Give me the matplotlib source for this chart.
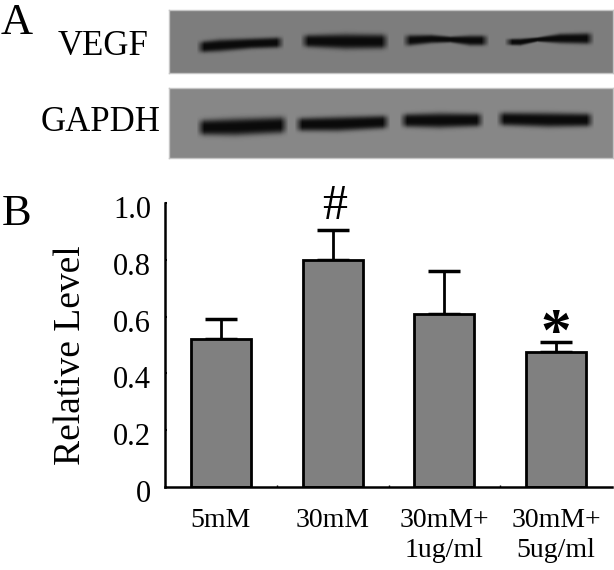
import numpy as np
import matplotlib
matplotlib.use('Agg')
import matplotlib.pyplot as plt
from matplotlib.transforms import ScaledTranslation

plt.rcParams['font.family'] = ['Liberation Serif', 'DejaVu Serif']

W, H = 614, 570

# bar chart values
groups = ['5mM', '30mM', '30mM+\n1ug/ml', '30mM+\n5ug/ml']
means = [0.52, 0.80, 0.61, 0.475]
errors = [0.07, 0.105, 0.15, 0.035]
yticks = [0, 0.2, 0.4, 0.6, 0.8, 1.0]
ytick_labels = ['0', '0.2', '0.4', '0.6', '0.8', '1.0']

# blot bands, each point is (x, y, half thickness) in page pixels
vegf_bands = [
    [(200, 46.5, 5.5), (219, 45, 6), (251, 43, 5.2), (280, 42, 5.2)],
    [(304, 40.5, 6), (345, 41, 7.5), (385, 41, 7)],
    [(406, 40, 5.4), (431, 38.5, 4.2), (450, 39, 3), (470, 40, 5), (485, 40, 5)],
    [(508, 41.5, 3.2), (520, 41.5, 3.4), (537, 39, 2.2), (560, 38, 4.8), (590, 38, 5.5)],
]
gapdh_bands = [
    [(200, 127, 7.5), (235, 126.5, 8.5), (284, 124.5, 8)],
    [(298, 124, 6.5), (337, 123.5, 7.2), (386, 121.5, 6.5)],
    [(403, 120, 6.5), (439, 120, 7.5), (480, 119.5, 6.5)],
    [(500, 118.5, 6.5), (548, 119.5, 7.2), (590, 119.5, 6.5)],
]


def axes_px(x0, y0, x1, y1):
    return fig.add_axes([x0 / W, 1 - y1 / H, (x1 - x0) / W, (y1 - y0) / H])


def blot(x0, y0, x1, y1, bands, bg):
    xx, yy = np.meshgrid(np.arange(x0, x1), np.arange(y0, y1))
    img = np.full(xx.shape, bg, dtype=float)
    dark = np.zeros(xx.shape)
    for band in bands:
        px, py, pt = np.array(band).T
        yc = np.interp(xx, px, py)
        th = np.interp(xx, px, pt)
        ends = np.clip((xx - px[0] + 4) / 8, 0, 1) * np.clip((px[-1] + 4 - xx) / 8, 0, 1)
        dark = np.maximum(dark, ends * np.exp(-(np.abs(yy - yc) / th) ** 3))
    img = img * (1 - dark) + 10 * dark
    ax = axes_px(x0, y0, x1, y1)
    ax.imshow(img, cmap='gray', vmin=0, vmax=255, aspect='auto', interpolation='bilinear')
    ax.set_xticks([])
    ax.set_yticks([])
    for s in ax.spines.values():
        s.set_color('#c4c4c4')
        s.set_linewidth(1)


fig = plt.figure(figsize=(W / 100, H / 100), dpi=100)

blot(169, 10, 613, 73, vegf_bands, 125)
blot(169, 88, 613, 158, gapdh_bands, 135)

fig.text(1 / W, 1 - 34 / H, 'A', fontsize=32, va='baseline')
fig.text(2 / W, 1 - 225 / H, 'B', fontsize=32, va='baseline')
fig.text(58 / W, 1 - 55 / H, 'VEGF', fontsize=25, va='baseline')
fig.text(41 / W, 1 - 131 / H, 'GAPDH', fontsize=25, va='baseline')

ax = axes_px(165, 203, 612, 487)
x = np.arange(len(groups))
ax.bar(x, means, width=0.535, color='#808080', edgecolor='black', linewidth=2, zorder=2)
ax.errorbar(x, means, yerr=[[0] * 4, errors], fmt='none', ecolor='black',
            elinewidth=2, capsize=11.5, capthick=2.5, zorder=1)

ax.set_xlim(-0.5, 3.5)
ax.set_ylim(0, 1)
ax.spines['top'].set_visible(False)
ax.spines['right'].set_visible(False)
ax.spines['left'].set_linewidth(1.8)
ax.spines['bottom'].set_linewidth(1.8)

ax.set_yticks(yticks, ytick_labels, fontsize=22)
ax.tick_params(axis='y', direction='in', length=1.5, width=1.5, pad=10)
# tick labels sit a little below their ticks in the original
shift = ScaledTranslation(0, -4 / 100, fig.dpi_scale_trans)
for lab in ax.get_yticklabels():
    lab.set_transform(lab.get_transform() + shift)

ax.set_xticks(x, groups, fontsize=20, linespacing=1.25)
ax.set_xticks(x[:-1] + 0.5, minor=True)
ax.tick_params(axis='x', which='major', length=0, pad=15)
ax.tick_params(axis='x', which='minor', direction='in', length=1.5, width=1)
ax.set_ylabel('Relative Level', fontsize=27, y=0.465, labelpad=18)

ax.text(1.02, 0.905, '#', fontsize=36, ha='center', va='bottom')
ax.text(3, 0.535, '*', fontsize=44, ha='center', va='center', fontweight='bold')

fig.savefig('out.png', dpi=100)
